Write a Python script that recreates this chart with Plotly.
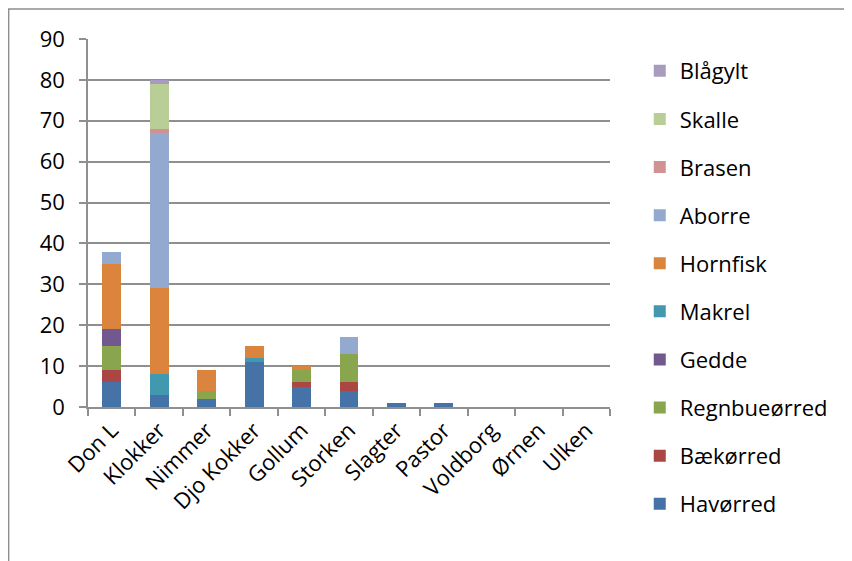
import plotly.graph_objects as go

categories = ["Don L", "Klokker", "Nimmer", "Djo Kokker", "Gollum", "Storken",
              "Slagter", "Pastor", "Voldborg", "Ørnen", "Ulken"]

havorred      = [6, 3, 2, 11, 5, 4, 1, 1, 0, 0, 0]
baekorred     = [3, 0, 0, 0, 1, 2, 0, 0, 0, 0, 0]
regnbueorred  = [6, 0, 2, 0, 3, 7, 0, 0, 0, 0, 0]
gedde         = [4, 0, 0, 0, 0, 0, 0, 0, 0, 0, 0]
makrel        = [0, 5, 0, 1, 0, 0, 0, 0, 0, 0, 0]
hornfisk      = [16, 21, 5, 3, 1, 0, 0, 0, 0, 0, 0]
aborre        = [3, 38, 0, 0, 0, 4, 0, 0, 0, 0, 0]
brasen        = [0, 1, 0, 0, 0, 0, 0, 0, 0, 0, 0]
skalle        = [0, 11, 0, 0, 0, 0, 0, 0, 0, 0, 0]
blagylt       = [0, 1, 0, 0, 0, 0, 0, 0, 0, 0, 0]

series = [
    ("Havørred", havorred, "#4572A7"),
    ("Bækørred", baekorred, "#AA4643"),
    ("Regnbueørred", regnbueorred, "#89A54E"),
    ("Gedde", gedde, "#71588F"),
    ("Makrel", makrel, "#4198AF"),
    ("Hornfisk", hornfisk, "#DB843D"),
    ("Aborre", aborre, "#93A9CF"),
    ("Brasen", brasen, "#D19392"),
    ("Skalle", skalle, "#B9CD96"),
    ("Blågylt", blagylt, "#A99BBD"),
]

fig = go.Figure()
n = len(series)
for i, (name, vals, color) in enumerate(series):
    fig.add_trace(go.Bar(x=categories, y=vals, name=name, legendgroup=name,
                         legendrank=n - i,
                         marker=dict(color=color, line=dict(width=0))))

font_family = "Open Sans, Noto Sans, sans-serif"
grid = "#8f8f8f"

fig.update_layout(
    barmode="stack",
    bargap=0.6,
    width=844, height=553,
    margin=dict(l=80, r=242, t=31, b=154),
    plot_bgcolor="white", paper_bgcolor="white",
    font=dict(family=font_family, size=22, color="black"),
    showlegend=True,
    legend=dict(traceorder="grouped", x=1.057, xanchor="left", y=0.97, yanchor="top",
                font=dict(size=22), tracegroupgap=16.5, itemwidth=30,
                maxheight=553, bgcolor="rgba(0,0,0,0)"),
    xaxis=dict(showline=True, linecolor=grid, linewidth=1.5,
               ticks="outside", ticklen=7, tickcolor=grid, tickwidth=1.5,
               tickson="boundaries", tickangle=-45, showgrid=False,
               tickfont=dict(size=22)),
    yaxis=dict(range=[0, 90], dtick=10, showline=True, linecolor=grid, linewidth=1.5,
               ticks="outside", ticklen=7, tickcolor=grid, tickwidth=1.5,
               showgrid=True, gridcolor=grid, gridwidth=1.5, ticklabelstandoff=10,
               zeroline=False, tickfont=dict(size=22)),
    shapes=[dict(type="rect", xref="paper", yref="paper",
                 x0=-0.152, x1=1.6, y0=-0.6, y1=1.0815,
                 line=dict(color=grid, width=1.5), fillcolor="rgba(0,0,0,0)",
                 layer="below")],
)

fig.write_html("out.html")
